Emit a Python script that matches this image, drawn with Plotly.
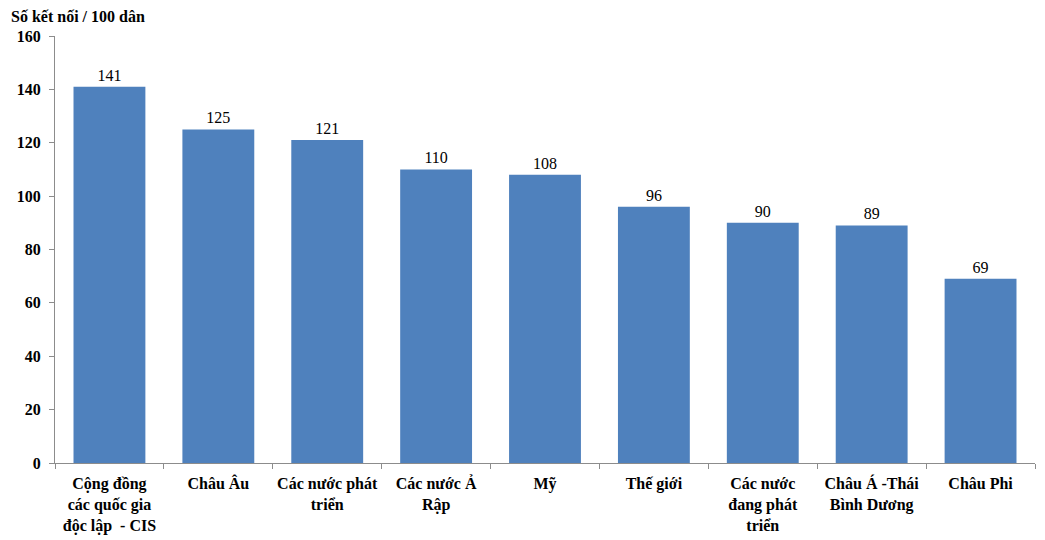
import plotly.graph_objects as go

categories = ["Cộng đồng<br>các quốc gia<br>độc lập  - CIS", "Châu Âu", "Các nước phát<br>triển",
              "Các nước Ả<br>Rập", "Mỹ", "Thế giới", "Các nước<br>đang phát<br>triển",
              "Châu Á -Thái<br>Bình Dương", "Châu Phi"]
values = [141, 125, 121, 110, 108, 96, 90, 89, 69]
y_ticks = [0, 20, 40, 60, 80, 100, 120, 140, 160]

fig = go.Figure(go.Bar(
    x=categories, y=values, marker=dict(color="#4F81BD", line=dict(width=0)),
    text=[str(v) for v in values], textposition="outside", cliponaxis=False,
    textfont=dict(family="Liberation Serif", size=16, color="#000000"),
))

fig.update_layout(
    width=1045, height=540, margin=dict(l=47, r=18, t=28, b=85),
    plot_bgcolor="white", paper_bgcolor="white", bargap=0.34, showlegend=False,
    font=dict(family="Liberation Serif", size=15, color="#000000"),
    annotations=[dict(text="<b>Số kết nối / 100 dân</b>", xref="paper", yref="paper",
                      x=-0.047, y=1.07, xanchor="left", yanchor="top", showarrow=False,
                      font=dict(family="Liberation Serif", size=16, color="#000"))],
)
fig.update_xaxes(showline=True, linecolor="#8c8c8c", linewidth=1, ticks="outside",
                 tickson="boundaries", ticklen=5, tickcolor="#8c8c8c", automargin=False,
                 tickangle=0, ticklabelstandoff=6,
                 tickfont=dict(family="Liberation Serif", size=16, color="#000", weight="bold"))
fig.update_yaxes(range=[0, 160], tickvals=y_ticks, showline=True, linecolor="#8c8c8c", linewidth=1,
                 ticks="outside", ticklen=5, tickcolor="#8c8c8c", showgrid=False, zeroline=False,
                 automargin=False, ticklabelstandoff=5,
                 tickfont=dict(family="Liberation Serif", size=16, color="#000", weight="bold"))

fig.write_html("out.html")
